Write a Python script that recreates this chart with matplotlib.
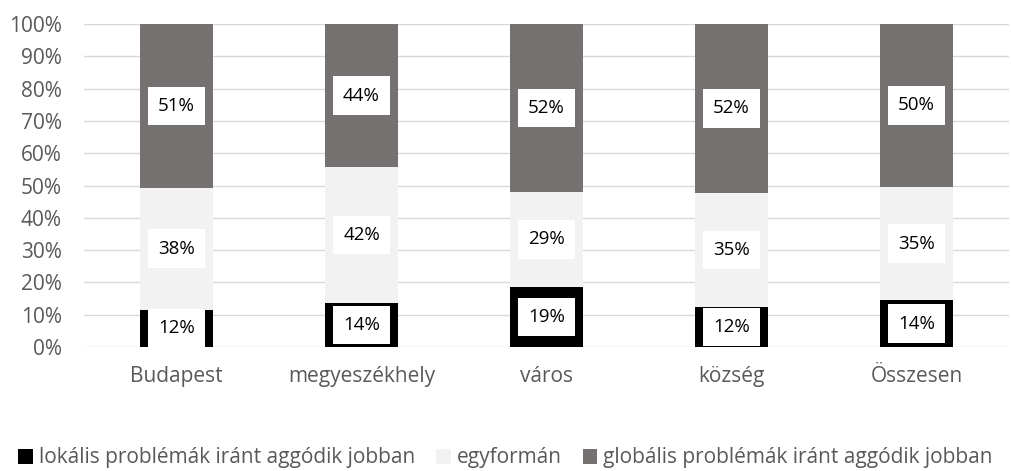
import numpy as np
from matplotlib import pyplot as plt

# adatok
kategoriak = ['Budapest', 'megyeszékhely', 'város', 'község', 'Összesen']
lokalis = [11.5, 13.6, 18.6, 12.4, 14.4]
egyforman = [37.8, 42.1, 29.4, 35.3, 35.2]
globalis = [50.7, 44.3, 52.0, 52.3, 50.4]
cimkek_lok = ['12%', '14%', '19%', '12%', '14%']
cimkek_egy = ['38%', '42%', '29%', '35%', '35%']
cimkek_glo = ['51%', '44%', '52%', '52%', '50%']
nevek = ['lokális problémák iránt aggódik jobban', 'egyformán',
         'globális problémák iránt aggódik jobban']
szinek = ['#000000', '#F2F2F2', '#767171']

plt.rcParams['font.family'] = ['Open Sans', 'DejaVu Sans']

fig = plt.figure(figsize=(10.11, 4.71), dpi=100)
ax = fig.add_axes([84/1011, 1 - 347/471, 925/1011, 323/471])

x = np.arange(len(kategoriak))
sz = 0.395
lok = np.array(lokalis)
egy = np.array(egyforman)
glo = np.array(globalis)

ax.bar(x, lok, sz, color=szinek[0], label=nevek[0], zorder=2)
ax.bar(x, egy, sz, bottom=lok, color=szinek[1], label=nevek[1], zorder=2)
ax.bar(x, glo, sz, bottom=lok + egy, color=szinek[2], label=nevek[2], zorder=2)

doboz = dict(boxstyle='square,pad=0.55', fc='white', ec='none')
for i in range(len(x)):
    ax.text(x[i], lok[i]/2, cimkek_lok[i], ha='center', va='center',
            fontsize=13.5, bbox=doboz, zorder=3)
    ax.text(x[i], lok[i] + egy[i]/2, cimkek_egy[i], ha='center', va='center',
            fontsize=13.5, bbox=doboz, zorder=3)
    ax.text(x[i], lok[i] + egy[i] + glo[i]/2, cimkek_glo[i], ha='center',
            va='center', fontsize=13.5, bbox=doboz, zorder=3)

ax.set_xlim(-0.5, len(x) - 0.5)
ax.set_ylim(0, 100)
ax.set_yticks(range(0, 101, 10))
ax.set_yticklabels([f'{v}%' for v in range(0, 101, 10)])
ax.set_xticks(x)
ax.set_xticklabels(kategoriak)
ax.grid(axis='y', color='#D9D9D9', linewidth=1, zorder=0)
for s in ax.spines.values():
    s.set_visible(False)
ax.tick_params(length=0, colors='#595959', labelsize=15)
ax.tick_params(axis='x', pad=14)
ax.tick_params(axis='y', pad=16)

leg = fig.legend(loc='center', bbox_to_anchor=(0.5, 1 - 458/471), ncol=3,
                 frameon=False, fontsize=15, handlelength=0.7,
                 handleheight=0.7, handletextpad=0.3, columnspacing=1.0)
for t in leg.get_texts():
    t.set_color('#595959')

plt.savefig('out.png', dpi=100)
